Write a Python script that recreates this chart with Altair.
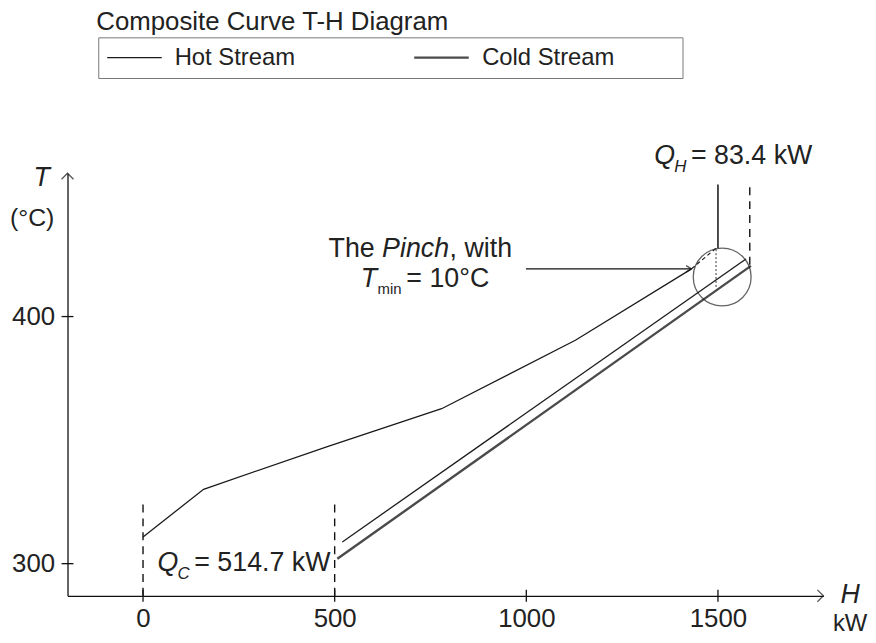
import altair as alt
import pandas as pd

# ---------------- data (H in kW, T in °C) ----------------
hot_H = [0, 158, 481, 779, 1128, 1431]
hot_T = [310.8, 330.1, 347.4, 362.7, 390.4, 419.3]
hot2_H = [520, 1573]
hot2_T = [308.8, 423.3]
cold_H = [507, 1586]
cold_T = [302.0, 420.5]

x_ticks = [0, 500, 1000, 1500]
y_ticks = [300, 400]
x_domain = [-197, 1775]
y_domain = [287, 458]

# guide lines
dash_H = [0, 500, 1583]
dash_T0 = [287, 287, 421.0]
dash_T1 = [324, 324, 453.4]

FONT = "Liberation Sans"

lines = pd.DataFrame(
    [{"H": h, "T": t, "stream": "Hot Stream", "seg": "a", "o": i} for i, (h, t) in enumerate(zip(hot_H, hot_T))]
    + [{"H": h, "T": t, "stream": "Hot Stream", "seg": "b", "o": i} for i, (h, t) in enumerate(zip(hot2_H, hot2_T))]
    + [{"H": h, "T": t, "stream": "Cold Stream", "seg": "c", "o": i} for i, (h, t) in enumerate(zip(cold_H, cold_T))]
)

xs = alt.Scale(domain=x_domain, nice=False, zero=False)
ys = alt.Scale(domain=y_domain, nice=False, zero=False)
x_axis = alt.Axis(values=x_ticks, ticks=False, grid=False, title=None, format="d",
                  domainColor="#111", domainWidth=1.3, labelFontSize=26,
                  labelFont=FONT, labelColor="#222", labelPadding=10, labelFlush=False)
y_axis = alt.Axis(values=y_ticks, ticks=False, grid=False, title=None, format="d",
                  domainColor="#111", domainWidth=1.3, labelFontSize=26,
                  labelFont=FONT, labelColor="#222", labelPadding=13, labelFlush=False)
X = lambda f="H": alt.X(f"{f}:Q", scale=xs, axis=x_axis)
Y = lambda f="T": alt.Y(f"{f}:Q", scale=ys, axis=y_axis)

pad = "\u00a0" * 9 + "\u200b"
curves = alt.Chart(lines).mark_line().encode(
    x=X(), y=Y(), detail="seg:N", order="o:Q",
    color=alt.Color("stream:N", scale=alt.Scale(domain=["Hot Stream", "Cold Stream"], range=["#1a1a1a", "#4a4a4a"]),
                    legend=alt.Legend(title=None, orient="none", legendX=31, legendY=-137, direction="horizontal",
                                      strokeColor="#777", padding=8, symbolType="stroke", symbolSize=3025,
                                      clipHeight=25, labelLimit=500,
                                      labelFontSize=24, labelFont=FONT, labelColor="#222", columnPadding=118,
                                      labelOffset=12,
                                      labelExpr="datum.label == 'Cold Stream' ? datum.label + '" + pad + "' : datum.label")),
    strokeWidth=alt.StrokeWidth("stream:N", scale=alt.Scale(domain=["Hot Stream", "Cold Stream"], range=[1.3, 2.4]), legend=None),
)

# pinch extension (dashed), vertical hot-utility line, dotted drop
ext = pd.DataFrame({"H": [1431, 1495], "T": [419.3, 427.7]})
ext_line = alt.Chart(ext).mark_line(color="#1a1a1a", strokeWidth=1.2, strokeDash=[4, 3]).encode(x=X(), y=Y())

vert = pd.DataFrame({"H": [1500], "T0": [427.7], "T1": [453.4]})
vert_rule = alt.Chart(vert).mark_rule(color="#111", strokeWidth=1.5).encode(x=X(), y=Y("T0"), y2="T1:Q")
drop = pd.DataFrame({"H": [1495], "T0": [412.0], "T1": [427.7]})
drop_rule = alt.Chart(drop).mark_rule(color="#333", strokeWidth=1, strokeDash=[2, 2]).encode(x=X(), y=Y("T0"), y2="T1:Q")

dashes = pd.DataFrame({"H": dash_H, "T0": dash_T0, "T1": dash_T1})
dash_rules = alt.Chart(dashes).mark_rule(color="#111", strokeWidth=1.4, strokeDash=[8, 6]).encode(
    x=X(), y=Y("T0"), y2="T1:Q")

# pinch circle
circ = alt.Chart(pd.DataFrame({"H": [1511], "T": [416]})).mark_point(
    shape="circle", size=3400, filled=False, color="#222", strokeWidth=1.3).encode(x=X(), y=Y())

# pinch arrow
arr = pd.DataFrame({"H0": [999], "H1": [1431], "T": [419.3]})
arr_rule = alt.Chart(arr).mark_rule(color="#111", strokeWidth=1.3).encode(x=X("H0"), x2="H1:Q", y=Y())
arr_head = alt.Chart(arr).mark_point(shape="M-1,-0.6L0,0L-1,0.6", size=120, filled=False, color="#111",
                                     strokeWidth=1.3).encode(x=X("H1"), y=Y())

# axis decorations: crossing ticks (half-length in data units) and arrow heads
tick_dT = 2.4
tick_dH = 15.5
xt_df = pd.DataFrame({"H": x_ticks, "T0": [y_domain[0] - tick_dT] * 4, "T1": [y_domain[0] + tick_dT] * 4})
xt = alt.Chart(xt_df).mark_rule(color="#111", strokeWidth=1.3).encode(x=X(), y=Y("T0"), y2="T1:Q")
yt_df = pd.DataFrame({"H0": [x_domain[0] - tick_dH] * 2, "H1": [x_domain[0] + tick_dH] * 2, "T": y_ticks})
yt = alt.Chart(yt_df).mark_rule(color="#111", strokeWidth=1.3).encode(x=X("H0"), x2="H1:Q", y=Y())
xa = alt.Chart(pd.DataFrame({"H": [x_domain[1]], "T": [y_domain[0]]})).mark_point(
    shape="M-1,-1L0,0L-1,1", size=144, filled=False, color="#111", strokeWidth=1.3).encode(x=X(), y=Y())
ya = alt.Chart(pd.DataFrame({"H": [x_domain[0]], "T": [y_domain[1]]})).mark_point(
    shape="M-1,1L0,0L1,1", size=144, filled=False, color="#111", strokeWidth=1.3).encode(x=X(), y=Y())

# ---------------- text annotations ----------------
def piece(anchor, text, dx=0, dy=0, size=27, style="normal"):
    df = pd.DataFrame({"H": [anchor[0]], "T": [anchor[1]], "t": [text]})
    return alt.Chart(df).mark_text(font=FONT, fontSize=size, fontStyle=style, align="left",
                                   baseline="alphabetic", color="#222", dx=dx, dy=dy).encode(
        x=X(), y=Y(), text="t:N")

# anchors in data units
pinch1 = (484, 424.1)
pinch2 = (568, 412.0)
qh = (1334, 461.8)
qc = (38, 297.2)
tlab = (-286, 453)
clab = (-347, 436.5)
hlab = (1820, 284)
kwlab = (1800, 272.8)

ann = [
    piece(pinch1, "The "),
    piece(pinch1, "Pinch", dx=54, style="italic"),
    piece(pinch1, ", with", dx=122),
    piece(pinch2, "T", style="italic"),
    piece(pinch2, "min", dx=17, dy=7, size=15),
    piece(pinch2, "= 10°C", dx=46),
    piece(qh, "Q", style="italic"),
    piece(qh, "H", dx=20, dy=8, size=17, style="italic"),
    piece(qh, "= 83.4 kW", dx=37),
    piece(qc, "Q", style="italic"),
    piece(qc, "C", dx=20, dy=8, size=17, style="italic"),
    piece(qc, "= 514.7 kW", dx=37),
    piece(tlab, "T", style="italic"),
    piece(clab, "(°C)", size=25),
    piece(hlab, "H", style="italic"),
    piece(kwlab, "kW", size=24),
]

chart = alt.layer(
    dash_rules, curves, ext_line, vert_rule, drop_rule, circ, arr_rule, arr_head,
    xt, yt, xa, ya, *ann,
).properties(
    width=762, height=426,
    title=alt.TitleParams("Composite Curve T-H Diagram", anchor="start", frame="group", font=FONT,
                          fontSize=26, fontWeight="normal", color="#222", dx=29, dy=6, offset=8),
    autosize=alt.AutoSizeParams(type="none"),
    padding={"left": 60, "top": 164, "right": 45, "bottom": 44},
).configure(background="white").configure_view(stroke=None)

chart.save("out.html", embed_options={"renderer": "svg", "actions": False})
